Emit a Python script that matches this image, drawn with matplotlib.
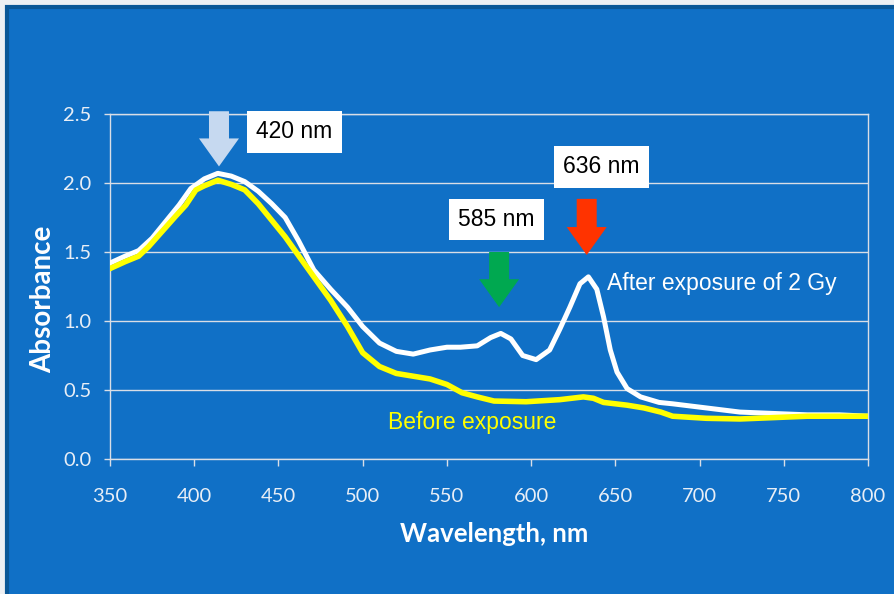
import matplotlib
matplotlib.use('Agg')
import matplotlib.pyplot as plt
from matplotlib.patches import Rectangle
from matplotlib.ticker import FormatStrFormatter

# absorbance spectra
wl_after = [350, 359, 367, 375, 383, 391, 398, 406, 414, 422, 430, 438, 446, 454,
            462, 471, 481, 491, 500, 510, 520, 530, 540, 550, 558, 568, 576, 582,
            588, 595, 603, 611, 617, 623, 629, 634, 639, 643, 647, 651, 657, 665,
            676, 684, 704, 724, 744, 764, 783, 800]
abs_after = [1.42, 1.47, 1.51, 1.60, 1.72, 1.84, 1.96, 2.03, 2.07, 2.05, 2.01, 1.94, 1.85, 1.75,
             1.58, 1.37, 1.23, 1.10, 0.96, 0.84, 0.78, 0.76, 0.79, 0.81, 0.81, 0.82, 0.88, 0.91,
             0.87, 0.75, 0.72, 0.79, 0.94, 1.10, 1.27, 1.32, 1.23, 1.03, 0.79, 0.63, 0.51, 0.45,
             0.41, 0.40, 0.37, 0.34, 0.33, 0.32, 0.32, 0.31]

wl_before = [350, 359, 367, 373, 381, 389, 395, 401, 406, 414, 422, 430, 438, 446,
             454, 461, 471, 481, 491, 500, 510, 520, 530, 540, 550, 559, 568, 578,
             597, 617, 631, 637, 643, 657, 667, 677, 684, 704, 724, 744, 764, 783, 800]
abs_before = [1.38, 1.43, 1.47, 1.54, 1.65, 1.76, 1.84, 1.95, 1.98, 2.02, 1.99, 1.95, 1.85, 1.73,
              1.61, 1.49, 1.32, 1.15, 0.96, 0.77, 0.67, 0.62, 0.60, 0.58, 0.54, 0.48, 0.45, 0.42,
              0.415, 0.43, 0.45, 0.44, 0.41, 0.39, 0.37, 0.34, 0.31, 0.295, 0.29, 0.30, 0.31, 0.31, 0.31]

# peak markers: label, arrow x, arrow top, arrow tip, colour, label x, label y
peaks = [
    ('420 nm', 414.7, 2.52, 2.12, '#C6D9F0', 459.6, 2.37),
    ('585 nm', 581.0, 1.50, 1.10, '#00A850', 579.5, 1.735),
    ('636 nm', 633.0, 1.885, 1.478, '#FF3300', 641.9, 2.116),
]

bg = '#1070C6'

fig = plt.figure(figsize=(8.94, 5.94), dpi=100)
fig.patch.set_facecolor('#EEF0F3')
fig.add_artist(Rectangle((7/894, -0.05), 1.1, 1.05 - 7/594, transform=fig.transFigure,
                         facecolor=bg, edgecolor='#0B5796', linewidth=3, zorder=-1))

ax = fig.add_axes([110/894, 135/594, 758/894, 345/594])
ax.set_facecolor(bg)

ax.plot(wl_after, abs_after, color='white', lw=3.6, solid_joinstyle='round',
        solid_capstyle='round', zorder=3)
ax.plot(wl_before, abs_before, color='#FFFF00', lw=4.0, solid_joinstyle='round',
        solid_capstyle='round', zorder=4)

ax.set_xlim(350, 800)
ax.set_ylim(0, 2.5)
ax.set_xticks(range(350, 801, 50))
ax.set_yticks([0, 0.5, 1.0, 1.5, 2.0, 2.5])
ax.yaxis.set_major_formatter(FormatStrFormatter('%.1f'))
ax.grid(axis='y', color='#D9DEE6', lw=1)
ax.set_axisbelow(True)
for s in ax.spines.values():
    s.set_color('#D9DEE6')
    s.set_linewidth(1)

ax.tick_params(axis='x', length=5, width=1, color='#D9DEE6', pad=16, labelcolor='#E8EEF6')
ax.tick_params(axis='y', length=4.5, width=1, color='#D9DEE6', pad=9, labelcolor='#E8EEF6')
for lab in ax.get_xticklabels() + ax.get_yticklabels():
    lab.set_fontfamily('Lato')
    lab.set_fontsize(14.5)

fig.text(494.5/894, 1 - 534/594, 'Wavelength, nm', ha='center', va='center',
         color='white', fontsize=18.5, fontweight='bold', family='Lato')
fig.text(43/894, 1 - 299.5/594, 'Absorbance', ha='center', va='center', rotation=90,
         color='white', fontsize=20, fontweight='bold', family='Lato')

for label, x, y0, y1, col, tx, ty in peaks:
    ax.annotate('', xy=(x, y1), xytext=(x, y0), annotation_clip=False,
                arrowprops=dict(arrowstyle='simple,head_length=1.4,head_width=2.0,tail_width=1.0',
                                mutation_scale=14.4, fc=col, ec='none',
                                shrinkA=0, shrinkB=0), zorder=5)
    ax.text(tx, ty, label, ha='center', va='center', fontsize=16.5, family='Liberation Sans',
            color='black', zorder=6,
            bbox=dict(boxstyle='square,pad=0.4', facecolor='white', edgecolor='none'))

ax.text(645, 1.275, 'After exposure of 2 Gy', ha='left', va='center', fontsize=16.5,
        family='Liberation Sans', color='white', zorder=6)
ax.text(515, 0.261, 'Before exposure', ha='left', va='center', fontsize=16.5,
        family='Liberation Sans', color='#FFFF00', zorder=6)

fig.savefig('out.png', dpi=100, facecolor=fig.get_facecolor())
